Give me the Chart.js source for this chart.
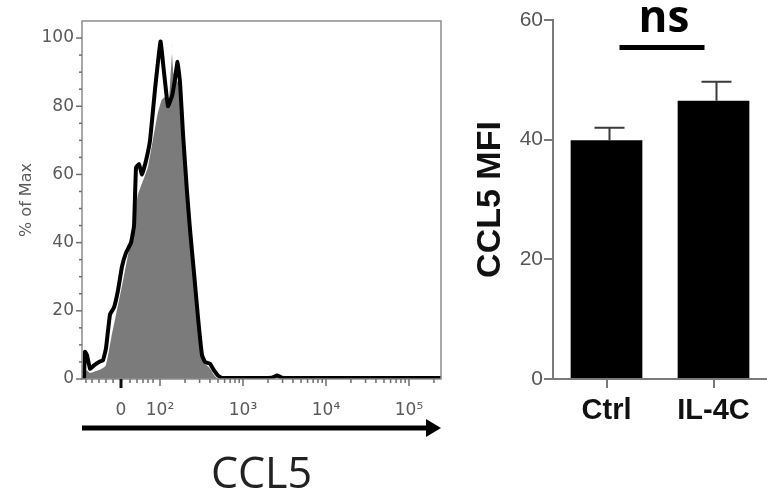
<!DOCTYPE html>
<html>
<head>
<meta charset="utf-8">
<script src="https://cdn.jsdelivr.net/npm/chart.js@4.4.1/dist/chart.umd.min.js"></script>
<style>
  html, body { margin: 0; padding: 0; background: #fff; }
  #wrap { position: relative; width: 767px; height: 497px; }
  canvas { position: absolute; top: 0; }
  #hist { left: 0; }
  #bars { left: 460px; }
</style>
</head>
<body>
<div id="wrap">
  <canvas id="hist" width="460" height="497"></canvas>
  <canvas id="bars" width="307" height="497"></canvas>
</div>
<script>
// histogram: x is in display decades of the biexponential axis (10^k sits at k)
const grayX = [1.084, 1.108, 1.157, 1.217, 1.277, 1.337, 1.373, 1.410, 1.470, 1.530, 1.602, 1.663, 1.723, 1.783, 1.843, 1.904, 1.964, 2.012, 2.060, 2.096, 2.120, 2.145, 2.169, 2.205, 2.241, 2.277, 2.325, 2.361, 2.410, 2.458, 2.506, 2.554, 2.602, 2.651, 2.699, 2.747];
const grayY = [0, 3, 2, 2.5, 3, 4, 8, 13, 20, 27, 36, 44, 54, 58, 62, 70, 78, 82, 83, 81, 90, 98.5, 90, 88, 86, 76, 57, 45, 31, 17, 8, 4.5, 3.5, 1.5, 0.3, 0];

const blackX = [1.084, 1.096, 1.120, 1.157, 1.205, 1.265, 1.313, 1.349, 1.398, 1.446, 1.494, 1.542, 1.590, 1.651, 1.687, 1.711, 1.747, 1.783, 1.831, 1.880, 1.940, 2.006, 2.048, 2.096, 2.145, 2.181, 2.211, 2.241, 2.277, 2.325, 2.361, 2.410, 2.458, 2.506, 2.542, 2.602, 2.651, 2.699, 2.747, 3.205, 3.349, 3.410, 3.470, 3.687, 5.386];
const blackY = [0, 8, 7, 3, 4, 5, 5.5, 9, 19, 21, 26, 33, 37, 40, 45, 62, 63, 60, 64, 70, 85, 99, 90, 80, 83, 88, 93, 87, 72, 55, 44, 31, 18, 7, 5, 4.5, 2.5, 1, 0.3, 0.3, 0.4, 1.0, 0.4, 0.3, 0.3];

const xTickPos = [1.53, 2, 3, 4, 5];
const xTickLabels = ['0', '10²', '10³', '10⁴', '10⁵'];
const xLinearMinor = [1.108, 1.181, 1.265, 1.349, 1.434, 1.639, 1.723, 1.795, 1.855, 1.916];
const histYTicks = [0, 20, 40, 60, 80, 100];

// bar panel
const groups = ['Ctrl', 'IL-4C'];
const mfiMean = [39.9, 46.5];
const mfiUpper = [42.0, 49.7];
const barYTicks = [0, 20, 40, 60];
const sigLabel = 'ns';
const sigLevel = 55.4;

function toPoints(xs, ys) {
  return xs.map((x, i) => ({ x: x, y: ys[i] }));
}

const histFrame = {
  id: 'histFrame',
  afterDraw(chart) {
    const { ctx, chartArea: a, scales: { x, y } } = chart;
    ctx.save();
    ctx.strokeStyle = '#8c8c8c';
    ctx.lineWidth = 1.5;
    ctx.strokeRect(a.left, a.top, a.right - a.left, a.bottom - a.top);

    // y ticks, minor every 5
    ctx.strokeStyle = '#6e6e6e';
    ctx.lineWidth = 1.5;
    for (let v = 5; v <= 100; v += 5) {
      const py = y.getPixelForValue(v);
      const len = v % 20 === 0 ? 6 : 3;
      ctx.beginPath();
      ctx.moveTo(a.left - len, py);
      ctx.lineTo(a.left, py);
      ctx.stroke();
    }
    ctx.beginPath();
    ctx.moveTo(a.left - 6, a.bottom);
    ctx.lineTo(a.left, a.bottom);
    ctx.stroke();

    // x ticks
    const minor = xLinearMinor.slice();
    [2, 3, 4, 5].forEach(k => {
      for (let m = 2; m <= 9; m++) minor.push(k + Math.log10(m));
    });
    minor.filter(v => v < x.max).forEach(v => {
      const px = x.getPixelForValue(v);
      ctx.beginPath();
      ctx.moveTo(px, a.bottom);
      ctx.lineTo(px, a.bottom + 4);
      ctx.stroke();
    });
    xTickPos.slice(1).forEach(v => {
      const px = x.getPixelForValue(v);
      ctx.beginPath();
      ctx.moveTo(px, a.bottom);
      ctx.lineTo(px, a.bottom + 7);
      ctx.stroke();
    });
    const zx = x.getPixelForValue(xTickPos[0]);
    ctx.strokeStyle = '#111';
    ctx.lineWidth = 3;
    ctx.beginPath();
    ctx.moveTo(zx, a.bottom);
    ctx.lineTo(zx, a.bottom + 9);
    ctx.stroke();

    // arrow under the axis
    const ya = a.bottom + 49;
    ctx.strokeStyle = '#000';
    ctx.fillStyle = '#000';
    ctx.lineWidth = 5;
    ctx.beginPath();
    ctx.moveTo(a.left, ya);
    ctx.lineTo(a.right - 12, ya);
    ctx.stroke();
    ctx.beginPath();
    ctx.moveTo(a.right, ya);
    ctx.lineTo(a.right - 15, ya - 9);
    ctx.lineTo(a.right - 15, ya + 9);
    ctx.closePath();
    ctx.fill();
    ctx.restore();
  }
};

const barExtras = {
  id: 'barExtras',
  afterDatasetsDraw(chart) {
    const { ctx, scales: { y } } = chart;
    const bars = chart.getDatasetMeta(0).data;
    ctx.save();
    ctx.strokeStyle = '#3a3a3a';
    ctx.lineWidth = 2;
    bars.forEach((bar, i) => {
      const top = y.getPixelForValue(mfiMean[i]);
      const err = y.getPixelForValue(mfiUpper[i]);
      ctx.beginPath();
      ctx.moveTo(bar.x + 3, top);
      ctx.lineTo(bar.x + 3, err);
      ctx.moveTo(bar.x + 3 - 15, err);
      ctx.lineTo(bar.x + 3 + 15, err);
      ctx.stroke();
    });

    const x0 = bars[0].x, x1 = bars[1].x;
    const ly = y.getPixelForValue(sigLevel);
    ctx.strokeStyle = '#000';
    ctx.lineWidth = 5;
    ctx.beginPath();
    ctx.moveTo(x0 + 13, ly);
    ctx.lineTo(x1 - 9, ly);
    ctx.stroke();
    ctx.fillStyle = '#000';
    ctx.font = 'bold 44px "Open Sans"';
    ctx.textAlign = 'center';
    ctx.textBaseline = 'alphabetic';
    ctx.fillText(sigLabel, (x0 + x1) / 2 + 4, ly - 16);
    ctx.restore();
  }
};

new Chart(document.getElementById('hist'), {
  type: 'line',
  data: {
    datasets: [
      {
        label: 'control',
        data: toPoints(grayX, grayY),
        borderColor: '#ffffff',
        borderWidth: 1.5,
        backgroundColor: '#7b7b7b',
        fill: 'origin',
        pointRadius: 0,
        tension: 0.1,
        order: 2
      },
      {
        label: 'CCL5',
        data: toPoints(blackX, blackY),
        borderColor: '#000000',
        borderWidth: 4,
        fill: false,
        pointRadius: 0,
        tension: 0.1,
        order: 1
      }
    ]
  },
  options: {
    responsive: false,
    animation: false,
    layout: { padding: { left: 0, right: 19, top: 21, bottom: 0 } },
    plugins: { legend: { display: false }, tooltip: { enabled: false } },
    scales: {
      x: {
        type: 'linear',
        min: 1.06,
        max: 5.386,
        afterBuildTicks: s => { s.ticks = xTickPos.map(v => ({ value: v })); },
        afterFit: s => { s.height = 118; },
        grid: { display: false, drawTicks: false },
        border: { display: false },
        ticks: {
          padding: 21,
          color: '#5a5a5a',
          maxRotation: 0,
          autoSkip: false,
          font: { family: 'DejaVu Sans', size: 17 },
          callback: (v, i) => xTickLabels[i]
        },
        title: {
          display: true,
          text: 'CCL5',
          color: '#222',
          font: { family: 'Open Sans', size: 43, lineHeight: 1 },
          padding: { top: 0, bottom: 0 }
        }
      },
      y: {
        min: 0,
        max: 105,
        afterBuildTicks: s => { s.ticks = histYTicks.map(v => ({ value: v })); },
        afterFit: s => { s.width = 82; },
        grid: { display: false, drawTicks: false },
        border: { display: false },
        ticks: {
          padding: 8,
          color: '#5a5a5a',
          font: { family: 'DejaVu Sans', size: 17 }
        },
        title: {
          display: true,
          text: '% of Max',
          color: '#5a5a5a',
          font: { family: 'DejaVu Sans', size: 16 },
          padding: { top: 17, bottom: 0 }
        }
      }
    }
  },
  plugins: [histFrame]
});

new Chart(document.getElementById('bars'), {
  type: 'bar',
  data: {
    labels: groups,
    datasets: [{
      label: 'CCL5 MFI',
      data: mfiMean,
      backgroundColor: '#000',
      borderWidth: 0,
      barPercentage: 0.67,
      categoryPercentage: 1
    }]
  },
  options: {
    responsive: false,
    animation: false,
    layout: { padding: { left: 0, right: 0, top: 20, bottom: 0 } },
    plugins: { legend: { display: false }, tooltip: { enabled: false } },
    scales: {
      x: {
        afterFit: s => { s.height = 118; },
        grid: { display: true, drawOnChartArea: false, offset: false, tickLength: 9, color: '#7a7a7a', lineWidth: 2 },
        border: { display: true, color: '#7a7a7a', width: 2 },
        ticks: {
          padding: 6,
          color: '#111',
          font: { family: 'Liberation Sans', size: 29, weight: 'bold' }
        }
      },
      y: {
        min: 0,
        max: 60,
        afterBuildTicks: s => { s.ticks = barYTicks.map(v => ({ value: v })); },
        afterFit: s => { s.width = 93; },
        grid: { display: true, drawOnChartArea: false, tickLength: 9, color: '#7a7a7a', lineWidth: 2 },
        border: { display: true, color: '#7a7a7a', width: 2 },
        ticks: {
          padding: 1,
          color: '#555',
          font: { family: 'Liberation Sans', size: 21 }
        },
        title: {
          display: true,
          text: 'CCL5 MFI',
          color: '#111',
          font: { family: 'Liberation Sans', size: 34, weight: 'bold' },
          padding: { top: 10, bottom: 0 }
        }
      }
    }
  },
  plugins: [barExtras]
});
</script>
</body>
</html>
